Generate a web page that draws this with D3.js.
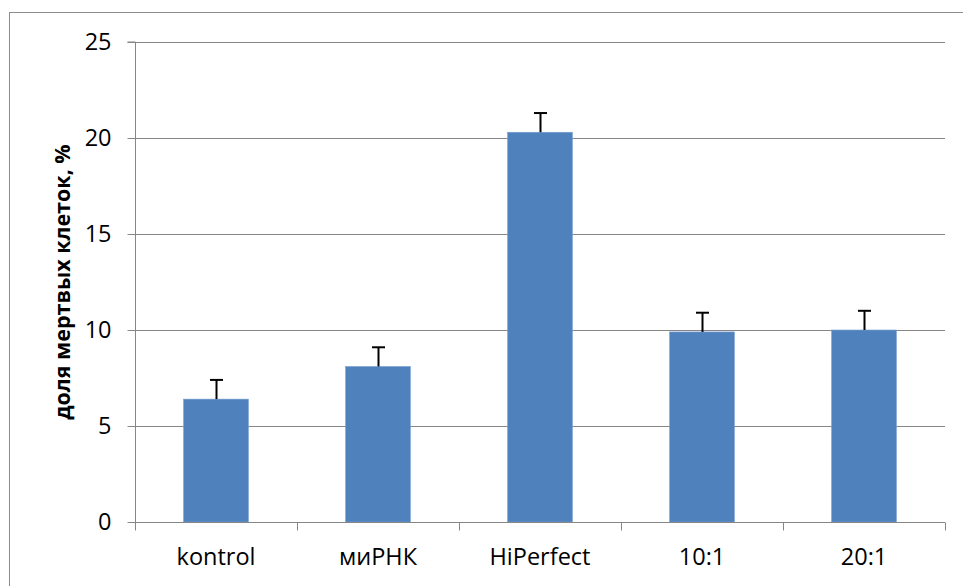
<!DOCTYPE html>
<html>
<head>
<meta charset="utf-8">
<script src="https://cdn.jsdelivr.net/npm/d3@7"></script>
<style>
  html, body { margin: 0; padding: 0; background: #fff; }
  svg { display: block; }
  text { font-family: "Open Sans", "Noto Sans", sans-serif; fill: #000; }
</style>
</head>
<body>
<svg id="chart" width="963" height="586"></svg>
<script>
const categories = ["kontrol", "миРНК", "HiPerfect", "10:1", "20:1"];
const values = [6.4, 8.1, 20.3, 9.9, 10.0];
const errors = [1.0, 1.0, 1.0, 1.0, 1.0];
const yTicks = [0, 5, 10, 15, 20, 25];
const yTitle = "доля мертвых клеток, %";

const W = 963, H = 586;
const m = { left: 135, right: 18, top: 42, bottom: 64 };
const svg = d3.select("#chart");

// outer chart frame (right/bottom edges fall outside the picture)
svg.append("rect")
  .attr("x", 9.5).attr("y", 12.5)
  .attr("width", 980).attr("height", 600)
  .attr("fill", "none").attr("stroke", "#8c8c8c").attr("stroke-width", 1);

const x = d3.scaleBand().domain(categories)
  .range([m.left, W - m.right]).padding(0);
const y = d3.scaleLinear().domain([0, 25]).range([H - m.bottom, m.top]);

const data = categories.map((c, i) => ({ c, v: values[i], e: errors[i] }));

// gridlines
svg.append("g").selectAll("line").data(yTicks.filter(t => t > 0)).join("line")
  .attr("x1", m.left).attr("x2", W - m.right)
  .attr("y1", d => Math.round(y(d)) + 0.5).attr("y2", d => Math.round(y(d)) + 0.5)
  .attr("stroke", "#868686").attr("stroke-width", 1);

// bars
const bw = x.bandwidth() * 0.4;
svg.append("g").selectAll("rect").data(data).join("rect")
  .attr("x", d => x(d.c) + (x.bandwidth() - bw) / 2)
  .attr("width", bw)
  .attr("y", d => y(d.v))
  .attr("height", d => y(0) - y(d.v))
  .attr("fill", "#4F81BD")
  .attr("stroke", "#7a9fd0").attr("stroke-width", 0.6);

// error bars (plus direction only)
const eg = svg.append("g").attr("stroke", "#000").attr("stroke-width", 2);
data.forEach(d => {
  const cx = Math.round(x(d.c) + x.bandwidth() / 2) + 0.5;
  eg.append("line").attr("x1", cx).attr("x2", cx)
    .attr("y1", y(d.v)).attr("y2", y(d.v + d.e));
  eg.append("line").attr("x1", cx - 6.5).attr("x2", cx + 6.5)
    .attr("y1", y(d.v + d.e)).attr("y2", y(d.v + d.e));
});

// y axis
const yAxis = d3.axisLeft(y).tickValues(yTicks).tickSize(8).tickPadding(16).tickFormat(d3.format("d"));
const gy = svg.append("g").attr("transform", `translate(${m.left + 0.5},0)`).call(yAxis);
gy.selectAll("path, line").attr("stroke", "#868686");
gy.select(".domain").attr("d", `M-8,${y(25)}H0V${y(0)}`);
gy.selectAll("text").attr("font-size", 23.5).attr("font-family", "'Open Sans', sans-serif");

// x axis
const xAxis = d3.axisBottom(x).tickSize(0).tickPadding(26);
const gx = svg.append("g").attr("transform", `translate(0,${Math.round(y(0)) + 0.5})`).call(xAxis);
gx.select(".domain").attr("stroke", "#868686").attr("d", `M${m.left},0H${W - m.right}`);
gx.selectAll("text").attr("font-size", 23.5).attr("font-family", "'Open Sans', sans-serif");
// category boundary ticks
const bounds = categories.map(c => x(c)).concat([x(categories[categories.length - 1]) + x.bandwidth()]);
gx.append("g").selectAll("line").data(bounds).join("line")
  .attr("x1", d => Math.round(d) + 0.5).attr("x2", d => Math.round(d) + 0.5)
  .attr("y1", 0).attr("y2", 8).attr("stroke", "#868686");

// y title
svg.append("text")
  .attr("transform", `translate(61,${(y(0) + y(25)) / 2}) rotate(-90)`)
  .attr("text-anchor", "middle").attr("dominant-baseline", "central")
  .attr("font-size", 21.5).attr("font-weight", "bold")
  .text(yTitle);
</script>
</body>
</html>
